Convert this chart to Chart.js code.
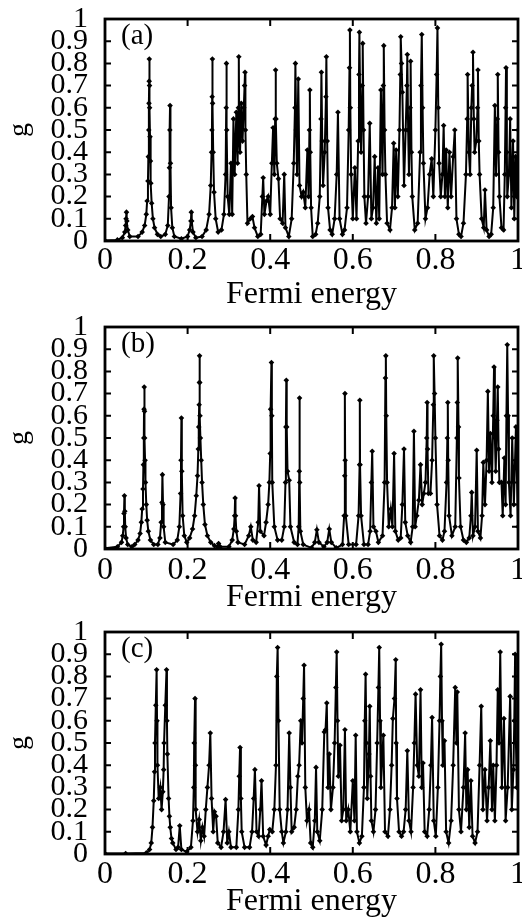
<!DOCTYPE html>
<html>
<head>
<meta charset="utf-8">
<script src="https://cdn.jsdelivr.net/npm/chart.js@4.4.1/dist/chart.umd.min.js"></script>
<style>
  html, body { margin: 0; padding: 0; background: #fff; overflow: hidden; }
  body { width: 522px; height: 920px; position: relative; }
  .panel { position: absolute; left: 0; width: 522px; height: 321px; }
</style>
</head>
<body>
<div class="panel" style="top:0px"><canvas id="chartA" width="522" height="321"></canvas></div>
<div class="panel" style="top:308px"><canvas id="chartB" width="522" height="321"></canvas></div>
<div class="panel" style="top:613px"><canvas id="chartC" width="522" height="321"></canvas></div>
<script>
// tick labels
const xTickLabels = ['0', '0.2', '0.4', '0.6', '0.8', '1'];
const yTickLabels = ['0', '0.1', '0.2', '0.3', '0.4', '0.5', '0.6', '0.7', '0.8', '0.9', '1'];
const panelLabels = ['(a)', '(b)', '(c)'];

// [Fermi energy, g]
const curveA = [
  [0,0.002],[0.03,0.005],[0.042,0.015],[0.048,0.04],[0.05,0.07],[0.051,0.1],[0.052,0.13],[0.053,0.09],[0.055,0.05],[0.06,0.02],
  [0.08,0.02],[0.09,0.04],[0.096,0.07],[0.1,0.12],[0.102,0.18],[0.104,0.27],[0.105,0.38],[0.106,0.5],[0.1065,0.62],[0.107,0.72],[0.1073,0.82],[0.1078,0.7],[0.108,0.6],[0.109,0.47],[0.11,0.36],[0.111,0.26],[0.113,0.17],[0.116,0.1],[0.12,0.06],[0.127,0.03],[0.135,0.02],
  [0.146,0.03],[0.152,0.07],[0.155,0.2],[0.156,0.33],[0.157,0.5],[0.1575,0.61],[0.1585,0.35],[0.16,0.15],[0.163,0.06],[0.168,0.02],
  [0.185,0.01],[0.2,0.02],[0.205,0.05],[0.208,0.09],[0.209,0.13],[0.21,0.09],[0.213,0.04],[0.22,0.015],
  [0.235,0.02],[0.245,0.05],[0.252,0.12],[0.256,0.25],[0.258,0.4],[0.259,0.5],[0.2595,0.65],[0.26,0.82],[0.2605,0.62],[0.262,0.4],[0.264,0.22],[0.268,0.1],[0.274,0.04],
  [0.282,0.05],[0.288,0.12],[0.292,0.3],[0.2935,0.6],[0.294,0.8],[0.2948,0.5],[0.297,0.2],[0.301,0.12],[0.305,0.35],[0.308,0.12],
  [0.311,0.55],[0.314,0.3],[0.318,0.58],[0.321,0.35],[0.323,0.6],[0.324,0.83],[0.325,0.5],[0.327,0.4],[0.33,0.62],[0.333,0.45],[0.336,0.6],[0.338,0.7],[0.339,0.76],[0.34,0.5],[0.342,0.3],[0.345,0.08],
  [0.352,0.1],[0.357,0.11],[0.362,0.06],[0.37,0.02],[0.377,0.03],
  [0.381,0.2],[0.383,0.285],[0.386,0.12],[0.391,0.18],[0.395,0.2],[0.4,0.12],[0.404,0.35],[0.407,0.51],[0.41,0.3],[0.412,0.55],[0.413,0.77],[0.414,0.55],[0.416,0.35],[0.42,0.28],[0.424,0.1],[0.43,0.08],[0.434,0.3],[0.437,0.06],
  [0.445,0.02],[0.452,0.1],[0.457,0.35],[0.46,0.6],[0.461,0.8],[0.463,0.5],[0.465,0.3],[0.468,0.73],[0.471,0.25],[0.476,0.2],[0.48,0.22],[0.485,0.15],[0.49,0.41],[0.493,0.2],[0.495,0.5],[0.496,0.68],[0.497,0.4],[0.499,0.15],[0.503,0.02],
  [0.51,0.03],[0.515,0.08],[0.52,0.2],[0.523,0.55],[0.524,0.76],[0.526,0.45],[0.528,0.25],[0.532,0.4],[0.535,0.65],[0.536,0.83],[0.538,0.45],[0.54,0.15],[0.545,0.05],[0.55,0.03],[0.556,0.1],[0.561,0.3],[0.564,0.58],[0.568,0.1],[0.575,0.03],
  [0.58,0.05],[0.586,0.15],[0.59,0.5],[0.592,0.78],[0.593,0.95],[0.594,0.6],[0.596,0.3],[0.6,0.1],[0.605,0.33],[0.609,0.1],[0.613,0.45],[0.615,0.75],[0.616,0.94],[0.618,0.6],[0.62,0.4],[0.623,0.7],[0.624,0.89],[0.626,0.5],[0.628,0.2],[0.632,0.08],[0.637,0.2],[0.641,0.53],[0.645,0.1],[0.649,0.15],[0.653,0.38],[0.657,0.08],[0.661,0.33],[0.664,0.1],[0.668,0.68],[0.672,0.3],[0.674,0.7],[0.675,0.88],[0.677,0.5],[0.679,0.3],[0.683,0.08],
  [0.69,0.05],[0.695,0.15],[0.699,0.44],[0.702,0.15],[0.705,0.41],[0.709,0.2],[0.713,0.5],[0.715,0.75],[0.716,0.92],[0.718,0.8],[0.72,0.67],[0.724,0.25],[0.728,0.5],[0.731,0.7],[0.732,0.84],[0.734,0.5],[0.736,0.3],[0.739,0.6],[0.74,0.81],[0.742,0.4],[0.744,0.2],[0.75,0.05],
  [0.757,0.08],[0.763,0.4],[0.765,0.7],[0.767,0.93],[0.769,0.6],[0.771,0.35],[0.776,0.1],[0.781,0.15],[0.786,0.3],[0.791,0.37],[0.795,0.2],[0.8,0.5],[0.803,0.75],[0.805,0.96],[0.807,0.6],[0.809,0.35],[0.813,0.2],[0.817,0.3],[0.82,0.52],[0.823,0.2],[0.826,0.41],[0.83,0.15],[0.834,0.4],[0.838,0.2],[0.843,0.38],[0.847,0.5],[0.851,0.1],[0.857,0.03],
  [0.862,0.02],[0.868,0.08],[0.874,0.3],[0.877,0.55],[0.878,0.75],[0.881,0.4],[0.884,0.3],[0.887,0.6],[0.889,0.7],[0.891,0.85],[0.893,0.55],[0.895,0.4],[0.899,0.45],[0.902,0.6],[0.903,0.77],[0.905,0.45],[0.907,0.3],[0.912,0.1],[0.917,0.06],[0.92,0.23],[0.924,0.05],[0.93,0.02],
  [0.935,0.03],[0.94,0.15],[0.944,0.61],[0.947,0.3],[0.95,0.55],[0.951,0.75],[0.953,0.4],[0.955,0.2],[0.96,0.06],[0.965,0.05],[0.968,0.3],[0.97,0.6],[0.971,0.78],[0.973,0.4],[0.974,0.2],[0.978,0.3],[0.981,0.55],[0.984,0.15],[0.988,0.45],[0.991,0.1],[0.994,0.38],[0.997,0.2],[1,0.5]
];

const curveB = [
  [0,0.003],[0.03,0.01],[0.04,0.03],[0.043,0.06],[0.045,0.1],[0.046,0.16],[0.047,0.24],[0.048,0.17],[0.049,0.1],[0.051,0.05],[0.055,0.02],[0.065,0.01],
  [0.072,0.02],[0.08,0.04],[0.085,0.07],[0.088,0.12],[0.09,0.18],[0.092,0.27],[0.093,0.38],[0.094,0.5],[0.0945,0.63],[0.095,0.73],[0.0957,0.62],[0.096,0.5],[0.097,0.4],[0.098,0.3],[0.1,0.2],[0.102,0.13],[0.105,0.08],[0.11,0.04],[0.118,0.02],
  [0.128,0.02],[0.133,0.05],[0.136,0.12],[0.138,0.21],[0.139,0.335],[0.1405,0.2],[0.142,0.1],[0.146,0.03],
  [0.165,0.02],[0.175,0.04],[0.18,0.1],[0.183,0.25],[0.184,0.4],[0.185,0.59],[0.186,0.35],[0.188,0.15],[0.192,0.06],[0.198,0.03],
  [0.205,0.05],[0.212,0.09],[0.217,0.15],[0.221,0.24],[0.224,0.33],[0.226,0.45],[0.227,0.55],[0.228,0.65],[0.2285,0.75],[0.229,0.87],[0.2295,0.75],[0.23,0.6],[0.231,0.5],[0.233,0.4],[0.235,0.3],[0.238,0.2],[0.242,0.11],[0.248,0.06],[0.256,0.03],[0.265,0.015],
  [0.272,0.01],[0.275,0.025],[0.279,0.01],
  [0.3,0.01],[0.308,0.04],[0.312,0.09],[0.314,0.15],[0.315,0.23],[0.316,0.15],[0.318,0.08],[0.322,0.03],
  [0.338,0.02],[0.348,0.06],[0.353,0.1],[0.358,0.04],[0.366,0.03],[0.371,0.12],[0.373,0.285],[0.376,0.08],[0.385,0.06],[0.39,0.12],[0.395,0.2],[0.398,0.3],[0.4,0.43],[0.401,0.63],[0.403,0.84],[0.404,0.6],[0.405,0.3],[0.41,0.1],[0.418,0.04],
  [0.428,0.04],[0.434,0.1],[0.437,0.3],[0.438,0.55],[0.439,0.76],[0.44,0.55],[0.442,0.35],[0.446,0.31],[0.449,0.1],[0.458,0.03],
  [0.466,0.02],[0.469,0.1],[0.4705,0.35],[0.471,0.68],[0.4715,0.3],[0.473,0.08],[0.48,0.02],
  [0.5,0.005],[0.508,0.03],[0.513,0.087],[0.518,0.03],[0.53,0.01],[0.538,0.03],[0.543,0.09],[0.548,0.03],[0.56,0.005],
  [0.575,0.02],[0.579,0.15],[0.5805,0.33],[0.581,0.7],[0.5815,0.4],[0.583,0.15],[0.59,0.02],
  [0.608,0.02],[0.614,0.15],[0.6165,0.38],[0.617,0.67],[0.6175,0.38],[0.62,0.15],[0.627,0.02],
  [0.637,0.02],[0.642,0.08],[0.645,0.3],[0.647,0.44],[0.65,0.1],[0.656,0.08],[0.662,0.03],
  [0.672,0.06],[0.677,0.3],[0.679,0.77],[0.68,0.87],[0.681,0.6],[0.683,0.3],[0.687,0.1],[0.692,0.18],[0.696,0.1],[0.7,0.43],[0.703,0.08],[0.71,0.04],
  [0.716,0.05],[0.72,0.2],[0.724,0.45],[0.727,0.12],[0.733,0.06],[0.74,0.03],[0.745,0.1],[0.748,0.53],[0.751,0.1],
  [0.755,0.15],[0.76,0.22],[0.764,0.38],[0.768,0.2],[0.772,0.25],[0.776,0.3],[0.779,0.5],[0.78,0.66],[0.781,0.45],[0.783,0.25],[0.788,0.25],[0.792,0.4],[0.795,0.65],[0.796,0.87],[0.798,0.7],[0.8,0.5],[0.804,0.2],[0.81,0.06],[0.817,0.04],
  [0.822,0.08],[0.827,0.3],[0.829,0.5],[0.83,0.66],[0.831,0.4],[0.833,0.15],[0.84,0.06],[0.848,0.1],[0.852,0.5],[0.853,0.66],[0.854,0.86],[0.856,0.55],[0.857,0.32],[0.861,0.1],[0.868,0.04],[0.875,0.03],
  [0.882,0.05],[0.886,0.15],[0.888,0.255],[0.891,0.06],[0.896,0.1],[0.9,0.445],[0.903,0.08],[0.909,0.05],[0.913,0.15],[0.916,0.39],[0.92,0.2],[0.924,0.4],[0.927,0.71],[0.93,0.35],[0.933,0.52],[0.937,0.3],[0.94,0.6],[0.942,0.82],[0.944,0.5],[0.946,0.35],[0.949,0.58],[0.951,0.73],[0.953,0.45],[0.955,0.3],[0.96,0.3],[0.963,0.15],[0.967,0.41],[0.97,0.2],[0.972,0.6],[0.974,0.92],[0.976,0.6],[0.978,0.3],[0.982,0.15],[0.986,0.5],[0.99,0.2],[0.995,0.55],[1,0.1]
];

const curveC = [
  [0,0.002],[0.05,0.002],[0.1,0.005],[0.108,0.02],[0.112,0.05],[0.115,0.12],[0.118,0.24],[0.12,0.37],[0.121,0.5],[0.123,0.67],[0.125,0.83],[0.126,0.6],[0.127,0.4],[0.13,0.25],[0.134,0.3],[0.137,0.2],[0.14,0.28],[0.142,0.38],[0.143,0.5],[0.146,0.67],[0.149,0.83],[0.15,0.6],[0.151,0.45],[0.154,0.25],[0.156,0.17],[0.158,0.12],[0.161,0.07],[0.164,0.05],[0.172,0.02],
  [0.177,0.03],[0.181,0.127],[0.185,0.02],[0.198,0.01],
  [0.208,0.03],[0.213,0.15],[0.215,0.3],[0.216,0.5],[0.218,0.7],[0.219,0.4],[0.22,0.2],[0.224,0.1],[0.228,0.155],[0.232,0.06],[0.236,0.12],[0.24,0.08],[0.244,0.2],[0.248,0.3],[0.252,0.4],[0.255,0.545],[0.258,0.25],[0.262,0.1],[0.265,0.19],[0.269,0.17],[0.273,0.05],[0.281,0.03],
  [0.287,0.1],[0.292,0.245],[0.296,0.05],[0.3,0.1],[0.305,0.03],[0.318,0.03],[0.323,0.2],[0.325,0.35],[0.327,0.48],[0.329,0.25],[0.331,0.1],[0.338,0.03],
  [0.35,0.03],[0.356,0.1],[0.36,0.25],[0.363,0.38],[0.367,0.1],[0.372,0.08],[0.376,0.2],[0.379,0.33],[0.383,0.08],[0.39,0.04],
  [0.395,0.08],[0.399,0.11],[0.405,0.1],[0.41,0.2],[0.414,0.4],[0.416,0.8],[0.418,0.93],[0.42,0.6],[0.423,0.2],[0.428,0.1],[0.432,0.05],[0.438,0.1],[0.442,0.2],[0.446,0.545],[0.449,0.3],[0.452,0.1],[0.458,0.12],[0.463,0.2],[0.467,0.35],[0.47,0.4],[0.474,0.6],[0.477,0.5],[0.48,0.7],[0.482,0.85],[0.485,0.3],[0.489,0.15],[0.494,0.2],[0.498,0.05],
  [0.503,0.03],[0.508,0.15],[0.511,0.39],[0.514,0.1],[0.52,0.06],[0.526,0.2],[0.531,0.55],[0.534,0.56],[0.537,0.68],[0.54,0.3],[0.543,0.45],[0.547,0.2],[0.552,0.3],[0.556,0.5],[0.559,0.75],[0.561,0.91],[0.563,0.6],[0.565,0.35],[0.569,0.49],[0.573,0.15],[0.577,0.2],[0.581,0.56],[0.584,0.15],[0.589,0.2],[0.594,0.1],[0.6,0.33],[0.604,0.15],[0.607,0.535],[0.61,0.1],[0.616,0.05],
  [0.622,0.08],[0.627,0.3],[0.629,0.6],[0.631,0.81],[0.633,0.5],[0.635,0.25],[0.639,0.45],[0.641,0.665],[0.643,0.35],[0.645,0.15],[0.65,0.1],[0.655,0.2],[0.659,0.5],[0.662,0.75],[0.664,0.93],[0.666,0.6],[0.668,0.3],[0.674,0.535],[0.678,0.1],[0.685,0.08],[0.69,0.2],[0.694,0.4],[0.697,0.61],[0.701,0.7],[0.704,0.875],[0.705,0.5],[0.707,0.25],[0.712,0.1],[0.718,0.08],[0.723,0.1],[0.728,0.2],[0.732,0.465],[0.736,0.15],[0.741,0.1],[0.746,0.3],[0.749,0.5],[0.752,0.72],[0.756,0.4],[0.76,0.35],[0.764,0.74],[0.767,0.3],[0.77,0.41],[0.774,0.1],[0.78,0.08],[0.785,0.2],[0.789,0.4],[0.792,0.615],[0.796,0.15],[0.801,0.08],[0.806,0.3],[0.81,0.6],[0.812,0.8],[0.814,0.945],[0.816,0.6],[0.818,0.4],[0.822,0.51],[0.826,0.1],[0.832,0.05],[0.838,0.15],[0.843,0.4],[0.848,0.75],[0.851,0.5],[0.853,0.73],[0.857,0.2],[0.862,0.1],[0.868,0.3],[0.872,0.545],[0.875,0.2],[0.878,0.38],[0.882,0.12],[0.886,0.33],[0.89,0.08],[0.896,0.05],[0.902,0.1],[0.907,0.4],[0.911,0.665],[0.915,0.2],[0.92,0.38],[0.925,0.15],[0.929,0.3],[0.933,0.51],[0.937,0.2],[0.94,0.4],[0.944,0.15],[0.948,0.4],[0.951,0.74],[0.954,0.5],[0.957,0.91],[0.961,0.3],[0.966,0.61],[0.97,0.15],[0.975,0.3],[0.981,0.71],[0.985,0.2],[0.989,0.38],[0.991,0.6],[0.993,0.9],[0.995,0.5],[0.997,0.3],[1,0.5]
];

const serif = "'Liberation Serif', 'DejaVu Serif', serif";

// box round the plot, inward ticks, panel letter
const framePlugin = {
  id: 'frame',
  afterDraw(chart, args, opts) {
    const ctx = chart.ctx;
    const a = chart.chartArea;
    const xs = chart.scales.x, ys = chart.scales.y;
    ctx.save();
    ctx.strokeStyle = '#000';
    ctx.lineWidth = 2.8;
    ctx.strokeRect(a.left, a.top, a.right - a.left, a.bottom - a.top);
    ctx.lineWidth = 2;
    ctx.beginPath();
    ys.ticks.forEach(t => {
      const y = ys.getPixelForValue(t.value);
      ctx.moveTo(a.left, y); ctx.lineTo(a.left + 6, y);
      ctx.moveTo(a.right, y); ctx.lineTo(a.right - 6, y);
    });
    xs.ticks.forEach(t => {
      const x = xs.getPixelForValue(t.value);
      ctx.moveTo(x, a.top); ctx.lineTo(x, a.top + 7);
      ctx.moveTo(x, a.bottom); ctx.lineTo(x, a.bottom - 7);
    });
    ctx.stroke();
    ctx.fillStyle = '#000';
    ctx.font = '29px ' + serif;
    ctx.textBaseline = 'middle';
    ctx.fillText(opts.label, a.left + 16, a.top + 17);
    ctx.restore();
  }
};

function makePanel(id, curve, label, tickPad, titlePad) {
  new Chart(document.getElementById(id), {
    type: 'scatter',
    data: {
      datasets: [{
        data: curve.map(p => ({x: p[0], y: p[1]})),
        showLine: true,
        borderColor: '#000',
        borderWidth: 2,
        pointStyle: 'rectRot',
        pointRadius: 2.8,
        pointBackgroundColor: '#000',
        pointBorderColor: '#000',
        pointBorderWidth: 0,
        tension: 0
      }]
    },
    options: {
      responsive: false,
      animation: false,
      devicePixelRatio: 1,
      layout: { padding: { top: 19, right: 2, left: 0, bottom: 0 } },
      plugins: {
        legend: { display: false },
        tooltip: { enabled: false },
        frame: { label: label }
      },
      scales: {
        x: {
          type: 'linear', min: 0, max: 1,
          grid: { display: false, drawTicks: false },
          border: { display: false },
          ticks: {
            stepSize: 0.2, padding: tickPad, color: '#000',
            font: { family: serif, size: 32 },
            callback: v => xTickLabels[Math.round(v * 5)]
          },
          title: {
            display: true, text: 'Fermi energy', color: '#000',
            font: { family: serif, size: 32 },
            padding: { top: 0, bottom: titlePad }
          },
          afterFit: s => { s.height = 80; s.paddingLeft = 0; s.paddingRight = 0; }
        },
        y: {
          min: 0, max: 1,
          grid: { display: false, drawTicks: false },
          border: { display: false },
          ticks: {
            stepSize: 0.1, autoSkip: false, padding: 17, color: '#000',
            font: { family: serif, size: 30 },
            callback: v => yTickLabels[Math.round(v * 10)]
          },
          title: {
            display: true, text: 'g', color: '#000',
            font: { family: serif, size: 28 },
            padding: { top: 3, bottom: 0 }
          },
          afterFit: s => { s.width = 105; s.paddingTop = 0; s.paddingBottom = 0; }
        }
      }
    },
    plugins: [framePlugin]
  });
}

makePanel('chartA', curveA, panelLabels[0], 0, 7);
makePanel('chartB', curveB, panelLabels[1], 2, 12);
makePanel('chartC', curveC, panelLabels[2], 1, 13);
</script>
</body>
</html>
